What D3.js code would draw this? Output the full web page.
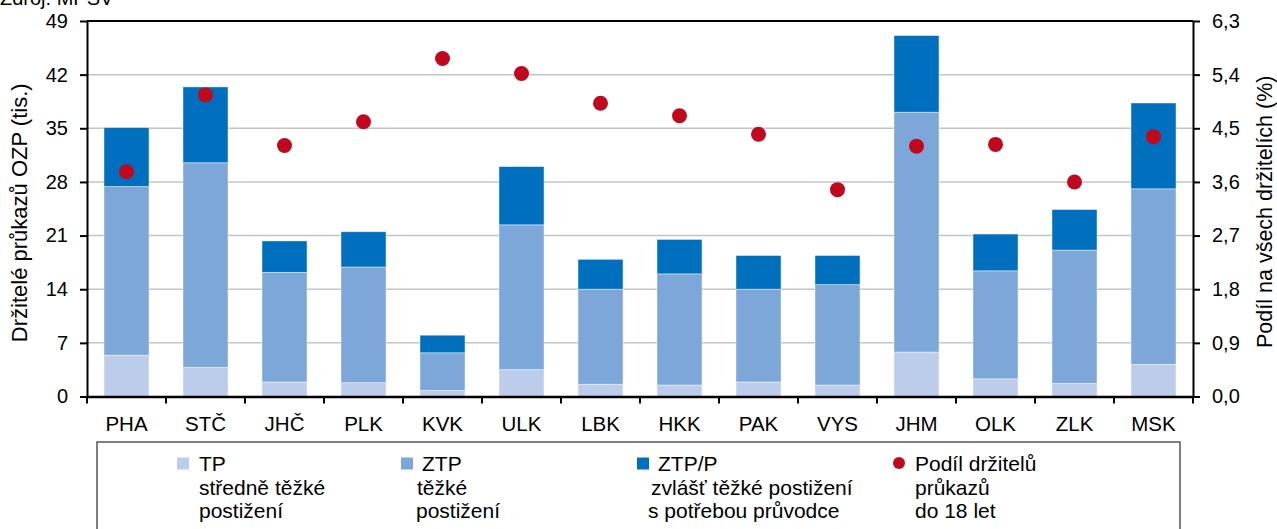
<!DOCTYPE html>
<html><head><meta charset="utf-8">
<script src="https://cdn.jsdelivr.net/npm/d3@7"></script>
<style>
html,body{margin:0;padding:0;background:#fff;}
svg{display:block;font-family:"Liberation Sans",Arial,sans-serif;}
</style></head>
<body><svg id="c" width="1277" height="529"></svg>
<script>
const categories = ["PHA","STČ","JHČ","PLK","KVK","ULK","LBK","HKK","PAK","VYS","JHM","OLK","ZLK","MSK"];
const tpValues   = [5.4, 3.8, 1.9, 1.8, 0.8, 3.5, 1.6, 1.5, 1.9, 1.5, 5.8, 2.3, 1.7, 4.2];
const ztpValues  = [22.0, 26.7, 14.3, 15.1, 4.9, 18.9, 12.4, 14.5, 12.1, 13.1, 31.3, 14.1, 17.4, 22.9];
const ztppValues = [7.7, 9.9, 4.1, 4.6, 2.3, 7.6, 3.9, 4.5, 4.4, 3.8, 10.0, 4.8, 5.3, 11.2];
const shareValues = [3.77, 5.06, 4.21, 4.61, 5.67, 5.42, 4.92, 4.71, 4.40, 3.47, 4.20, 4.23, 3.60, 4.36];
const leftTicks = [0, 7, 14, 21, 28, 35, 42, 49];
const rightTicks = [0, 0.9, 1.8, 2.7, 3.6, 4.5, 5.4, 6.3];
const rightTickLabels = ["0,0","0,9","1,8","2,7","3,6","4,5","5,4","6,3"];
const seriesKeys = ["TP","ZTP","ZTP/P"];
const seriesColors = ["#BCCDEB","#7DA7D8","#0070BE"];
const dotColor = "#C0081F";
const leftTitle = "Držitelé průkazů OZP (tis.)";
const rightTitle = "Podíl na všech držitelích (%)";
const sourceText = "Zdroj: MPSV";
const legendItems = [
  {key:"TP", lines:["TP","středně těžké","postižení"]},
  {key:"ZTP", lines:["ZTP","těžké","postižení"]},
  {key:"ZTP/P", lines:["ZTP/P","zvlášť těžké postižení","s potřebou průvodce"]},
  {key:"share", lines:["Podíl držitelů","průkazů","do 18 let"]}
];

const svg = d3.select("#c");
const L = 87, R = 1193, T = 21, B = 396.5;

const rows = categories.map((c,i)=>({cat:c, "TP":tpValues[i], "ZTP":ztpValues[i], "ZTP/P":ztppValues[i], share:shareValues[i]}));
const stacked = d3.stack().keys(seriesKeys)(rows);

const x = d3.scaleBand().domain(categories).range([L,R]).paddingInner(0.43).paddingOuter(0.215);
const yL = d3.scaleLinear().domain([0,49]).range([B,T]);
const yR = d3.scaleLinear().domain([0,6.3]).range([B,T]);
const color = d3.scaleOrdinal().domain(seriesKeys).range(seriesColors);

// source
svg.append("text").attr("x",0).attr("y",5).attr("font-size",20).attr("fill","#000").text(sourceText);

// gridlines
svg.append("g").selectAll("line").data(leftTicks.filter(t=>t>0 && t<49)).join("line")
  .attr("x1",L).attr("x2",R).attr("y1",d=>yL(d)).attr("y2",d=>yL(d))
  .attr("stroke","#C4C4C4").attr("stroke-width",1.5);

// bars
svg.append("g").selectAll("g").data(stacked).join("g")
  .attr("fill",d=>color(d.key))
  .selectAll("rect").data(d=>d).join("rect")
  .attr("x",d=>x(d.data.cat)).attr("width",x.bandwidth())
  .attr("y",d=>yL(d[1])).attr("height",d=>yL(d[0])-yL(d[1]))
  .attr("stroke","rgba(255,255,255,0.55)").attr("stroke-width",0.8);

// dots
svg.append("g").selectAll("circle").data(rows).join("circle")
  .attr("cx",d=>x(d.cat)+x.bandwidth()/2).attr("cy",d=>yR(d.share)).attr("r",7.5)
  .attr("fill",dotColor);

// top border
svg.append("line").attr("x1",L).attr("x2",R).attr("y1",T).attr("y2",T).attr("stroke","#000").attr("stroke-width",2);

// left axis
const gl = svg.append("g").attr("transform",`translate(${L},0)`)
  .call(d3.axisLeft(yL).tickValues(leftTicks).tickSize(7).tickPadding(12).tickSizeOuter(0));
gl.selectAll("text").attr("font-size",20).attr("fill","#000").attr("font-family","Liberation Sans, Arial, sans-serif");
gl.selectAll("line").attr("stroke","#000").attr("stroke-width",2);
gl.select(".domain").attr("stroke","#000").attr("stroke-width",2);

// right axis
const gr = svg.append("g").attr("transform",`translate(${R},0)`)
  .call(d3.axisRight(yR).tickValues(rightTicks).tickFormat((d,i)=>rightTickLabels[i]).tickSize(7).tickPadding(12).tickSizeOuter(0));
gr.selectAll("text").attr("font-size",20).attr("fill","#000").attr("font-family","Liberation Sans, Arial, sans-serif");
gr.selectAll("line").attr("stroke","#000").attr("stroke-width",2);
gr.select(".domain").attr("stroke","#000").attr("stroke-width",2);

// bottom axis (labels)
const gb = svg.append("g").attr("transform",`translate(0,${B})`)
  .call(d3.axisBottom(x).tickSize(0).tickPadding(20).tickSizeOuter(0));
gb.selectAll("text").attr("font-size",20.5).attr("fill","#000").attr("font-family","Liberation Sans, Arial, sans-serif");
gb.select(".domain").attr("stroke","#000").attr("stroke-width",2.5);
// category boundary ticks
const bounds = categories.map(c=>x(c)-x.step()*x.paddingInner()/2).concat([x(categories[categories.length-1])+x.bandwidth()+x.step()*x.paddingInner()/2]);
svg.append("g").selectAll("line").data(bounds).join("line")
  .attr("x1",d=>d).attr("x2",d=>d).attr("y1",B).attr("y2",B+7)
  .attr("stroke","#000").attr("stroke-width",2);

// axis titles
svg.append("text").attr("transform",`translate(27,${(T+B)/2+4}) rotate(-90)`)
  .attr("text-anchor","middle").attr("font-size",22).attr("fill","#000").text(leftTitle);
svg.append("text").attr("transform",`translate(1272,${(T+B)/2+3}) rotate(-90)`)
  .attr("text-anchor","middle").attr("font-size",21.5).attr("fill","#000").text(rightTitle);

// legend
svg.append("rect").attr("x",97).attr("y",442).attr("width",1083).attr("height",120)
  .attr("fill","none").attr("stroke","#555").attr("stroke-width",1.5);
const legendPos = [
  {mx:177, tx:[199,199,199]},
  {mx:401, tx:[422,417,416]},
  {mx:637, tx:[658,651,648]},
  {mx:893, tx:[915,915,915]}
];
const lg = svg.append("g");
legendItems.forEach((it,i)=>{
  const p = legendPos[i];
  if(it.key==="share"){
    lg.append("circle").attr("cx",p.mx+6).attr("cy",463).attr("r",6).attr("fill",dotColor);
  } else {
    lg.append("rect").attr("x",p.mx).attr("y",457.5).attr("width",12).attr("height",12).attr("fill",color(it.key));
  }
  it.lines.forEach((ln,j)=>{
    lg.append("text").attr("x",p.tx[j]).attr("y",471+j*23.5).attr("font-size",21).attr("fill","#000").text(ln);
  });
});
</script></body></html>
